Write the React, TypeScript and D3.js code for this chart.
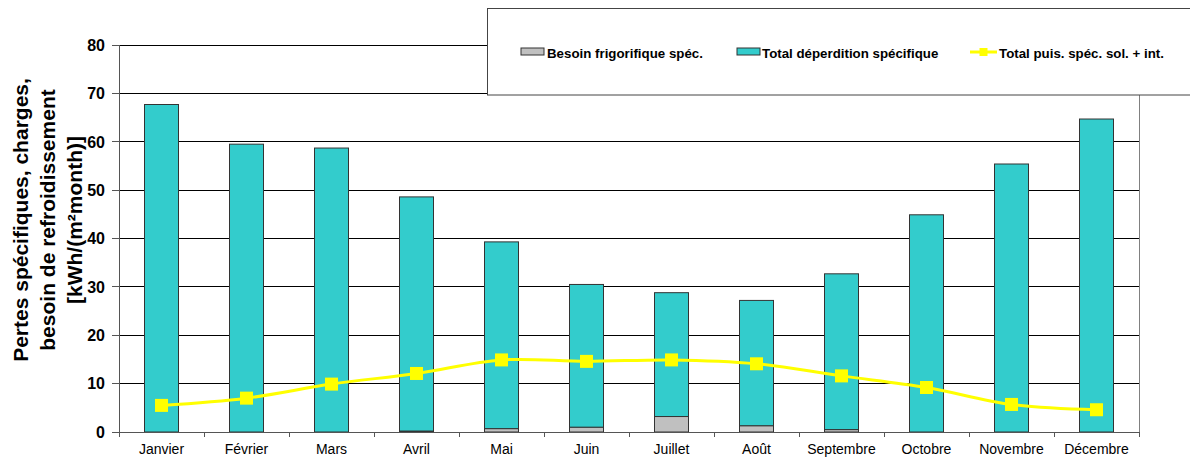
import React from "react";
import * as d3 from "d3";

const months = ["Janvier", "Février", "Mars", "Avril", "Mai", "Juin", "Juillet", "Août", "Septembre", "Octobre", "Novembre", "Décembre"];
const besoinFrigo = [0, 0, 0, 0.2, 0.7, 1.0, 3.2, 1.3, 0.5, 0, 0, 0];
const deperdition = [67.7, 59.5, 58.7, 48.4, 38.6, 29.5, 25.6, 25.9, 32.2, 44.9, 55.4, 64.7];
const puissance = [5.5, 7.0, 9.9, 12.1, 14.9, 14.6, 14.9, 14.1, 11.6, 9.2, 5.7, 4.6];
const yTicks = [0, 10, 20, 30, 40, 50, 60, 70, 80];
const legendLabels = ["Besoin frigorifique spéc.", "Total déperdition spécifique", "Total puis. spéc. sol. + int."];
const titleLines = ["Pertes spécifiques, charges,", "besoin de refroidissement", "[kWh/(m²month)]"];

const W = 1190, H = 460;
const left = 119, right = 1139, top = 45, bottom = 432;
const FONT = "'Liberation Sans', Arial, sans-serif";

export default function App() {
  const x = d3.scaleBand<string>().domain(months).range([left, right]).paddingInner(0).paddingOuter(0);
  const y = d3.scaleLinear().domain([0, 80]).range([bottom, top]);
  const bw = x.bandwidth() * 0.4;
  const cx = (m: string) => (x(m) as number) + x.bandwidth() / 2;

  const line = d3.line<number>()
    .x((_, i) => cx(months[i]))
    .y((d) => y(d))
    .curve(d3.curveCatmullRom.alpha(0.5));

  const boundaries = d3.range(months.length + 1).map((i) => left + i * x.bandwidth());

  return (
    <svg width={W} height={H} style={{ position: "absolute", left: 0, top: 0, background: "#fff" }} fontFamily={FONT}>
      {/* gridlines */}
      {yTicks.filter((t) => t > 0).map((t) => (
        <line key={t} x1={left} x2={right} y1={y(t)} y2={y(t)} stroke="#000" strokeWidth={1} shapeRendering="crispEdges" />
      ))}
      {/* right border */}
      <line x1={right} x2={right} y1={top} y2={bottom} stroke="#808080" strokeWidth={1} shapeRendering="crispEdges" />
      {/* bars */}
      {months.map((m, i) => {
        const x0 = cx(m) - bw / 2;
        const g = besoinFrigo[i];
        const c = deperdition[i];
        return (
          <g key={m}>
            {g > 0 && (
              <rect x={x0} y={y(g)} width={bw} height={y(0) - y(g)} fill="#C0C0C0" stroke="#333" strokeWidth={1} />
            )}
            <rect x={x0} y={y(g + c)} width={bw} height={y(g) - y(g + c)} fill="#33CCCC" stroke="#333" strokeWidth={1} />
          </g>
        );
      })}
      {/* axes */}
      <line x1={left} x2={left} y1={top} y2={bottom} stroke="#555" strokeWidth={1} shapeRendering="crispEdges" />
      <line x1={left} x2={right} y1={bottom} y2={bottom} stroke="#555" strokeWidth={1} shapeRendering="crispEdges" />
      {yTicks.map((t) => (
        <g key={t}>
          <line x1={left - 7} x2={left} y1={y(t)} y2={y(t)} stroke="#555" shapeRendering="crispEdges" />
          <text x={105} y={y(t)} dy="0.36em" textAnchor="end" fontSize={16} fontWeight="bold" fill="#000">{t}</text>
        </g>
      ))}
      {boundaries.map((b, i) => (
        <line key={i} x1={b} x2={b} y1={bottom} y2={bottom + 5} stroke="#555" shapeRendering="crispEdges" />
      ))}
      {months.map((m) => (
        <text key={m} x={cx(m)} y={454} textAnchor="middle" fontSize={14} fill="#000">{m}</text>
      ))}
      {/* line series */}
      <path d={line(puissance) || ""} fill="none" stroke="#FFFF00" strokeWidth={3} />
      {puissance.map((v, i) => (
        <rect key={i} x={cx(months[i]) - 6.5} y={y(v) - 6.5} width={13} height={13} fill="#FFFF00" />
      ))}
      {/* y title */}
      <g transform={`translate(47,${220}) rotate(-90)`}>
        {titleLines.map((t, i) => (
          <text key={i} x={0} y={(i - 1) * 27} dy="0.36em" textAnchor="middle" fontSize={21} fontWeight="bold" fill="#000">{t}</text>
        ))}
      </g>
      {/* legend */}
      <rect x={487.5} y={8.5} width={720} height={86.5} fill="#fff" stroke="#444" strokeWidth={1} />
      <rect x={521} y={48} width={23} height={7} fill="#C0C0C0" stroke="#333" />
      <text x={547} y={57.5} fontSize={13.3} fontWeight="bold" fill="#000">{legendLabels[0]}</text>
      <rect x={737} y={48} width={23} height={7} fill="#33CCCC" stroke="#333" />
      <text x={762} y={57.5} fontSize={13.3} fontWeight="bold" fill="#000">{legendLabels[1]}</text>
      <line x1={970} x2={997} y1={52} y2={52} stroke="#FFFF00" strokeWidth={3} />
      <rect x={979.5} y={48} width={8} height={8} fill="#FFFF00" />
      <text x={999} y={57.5} fontSize={13.3} fontWeight="bold" fill="#000">{legendLabels[2]}</text>
    </svg>
  );
}
